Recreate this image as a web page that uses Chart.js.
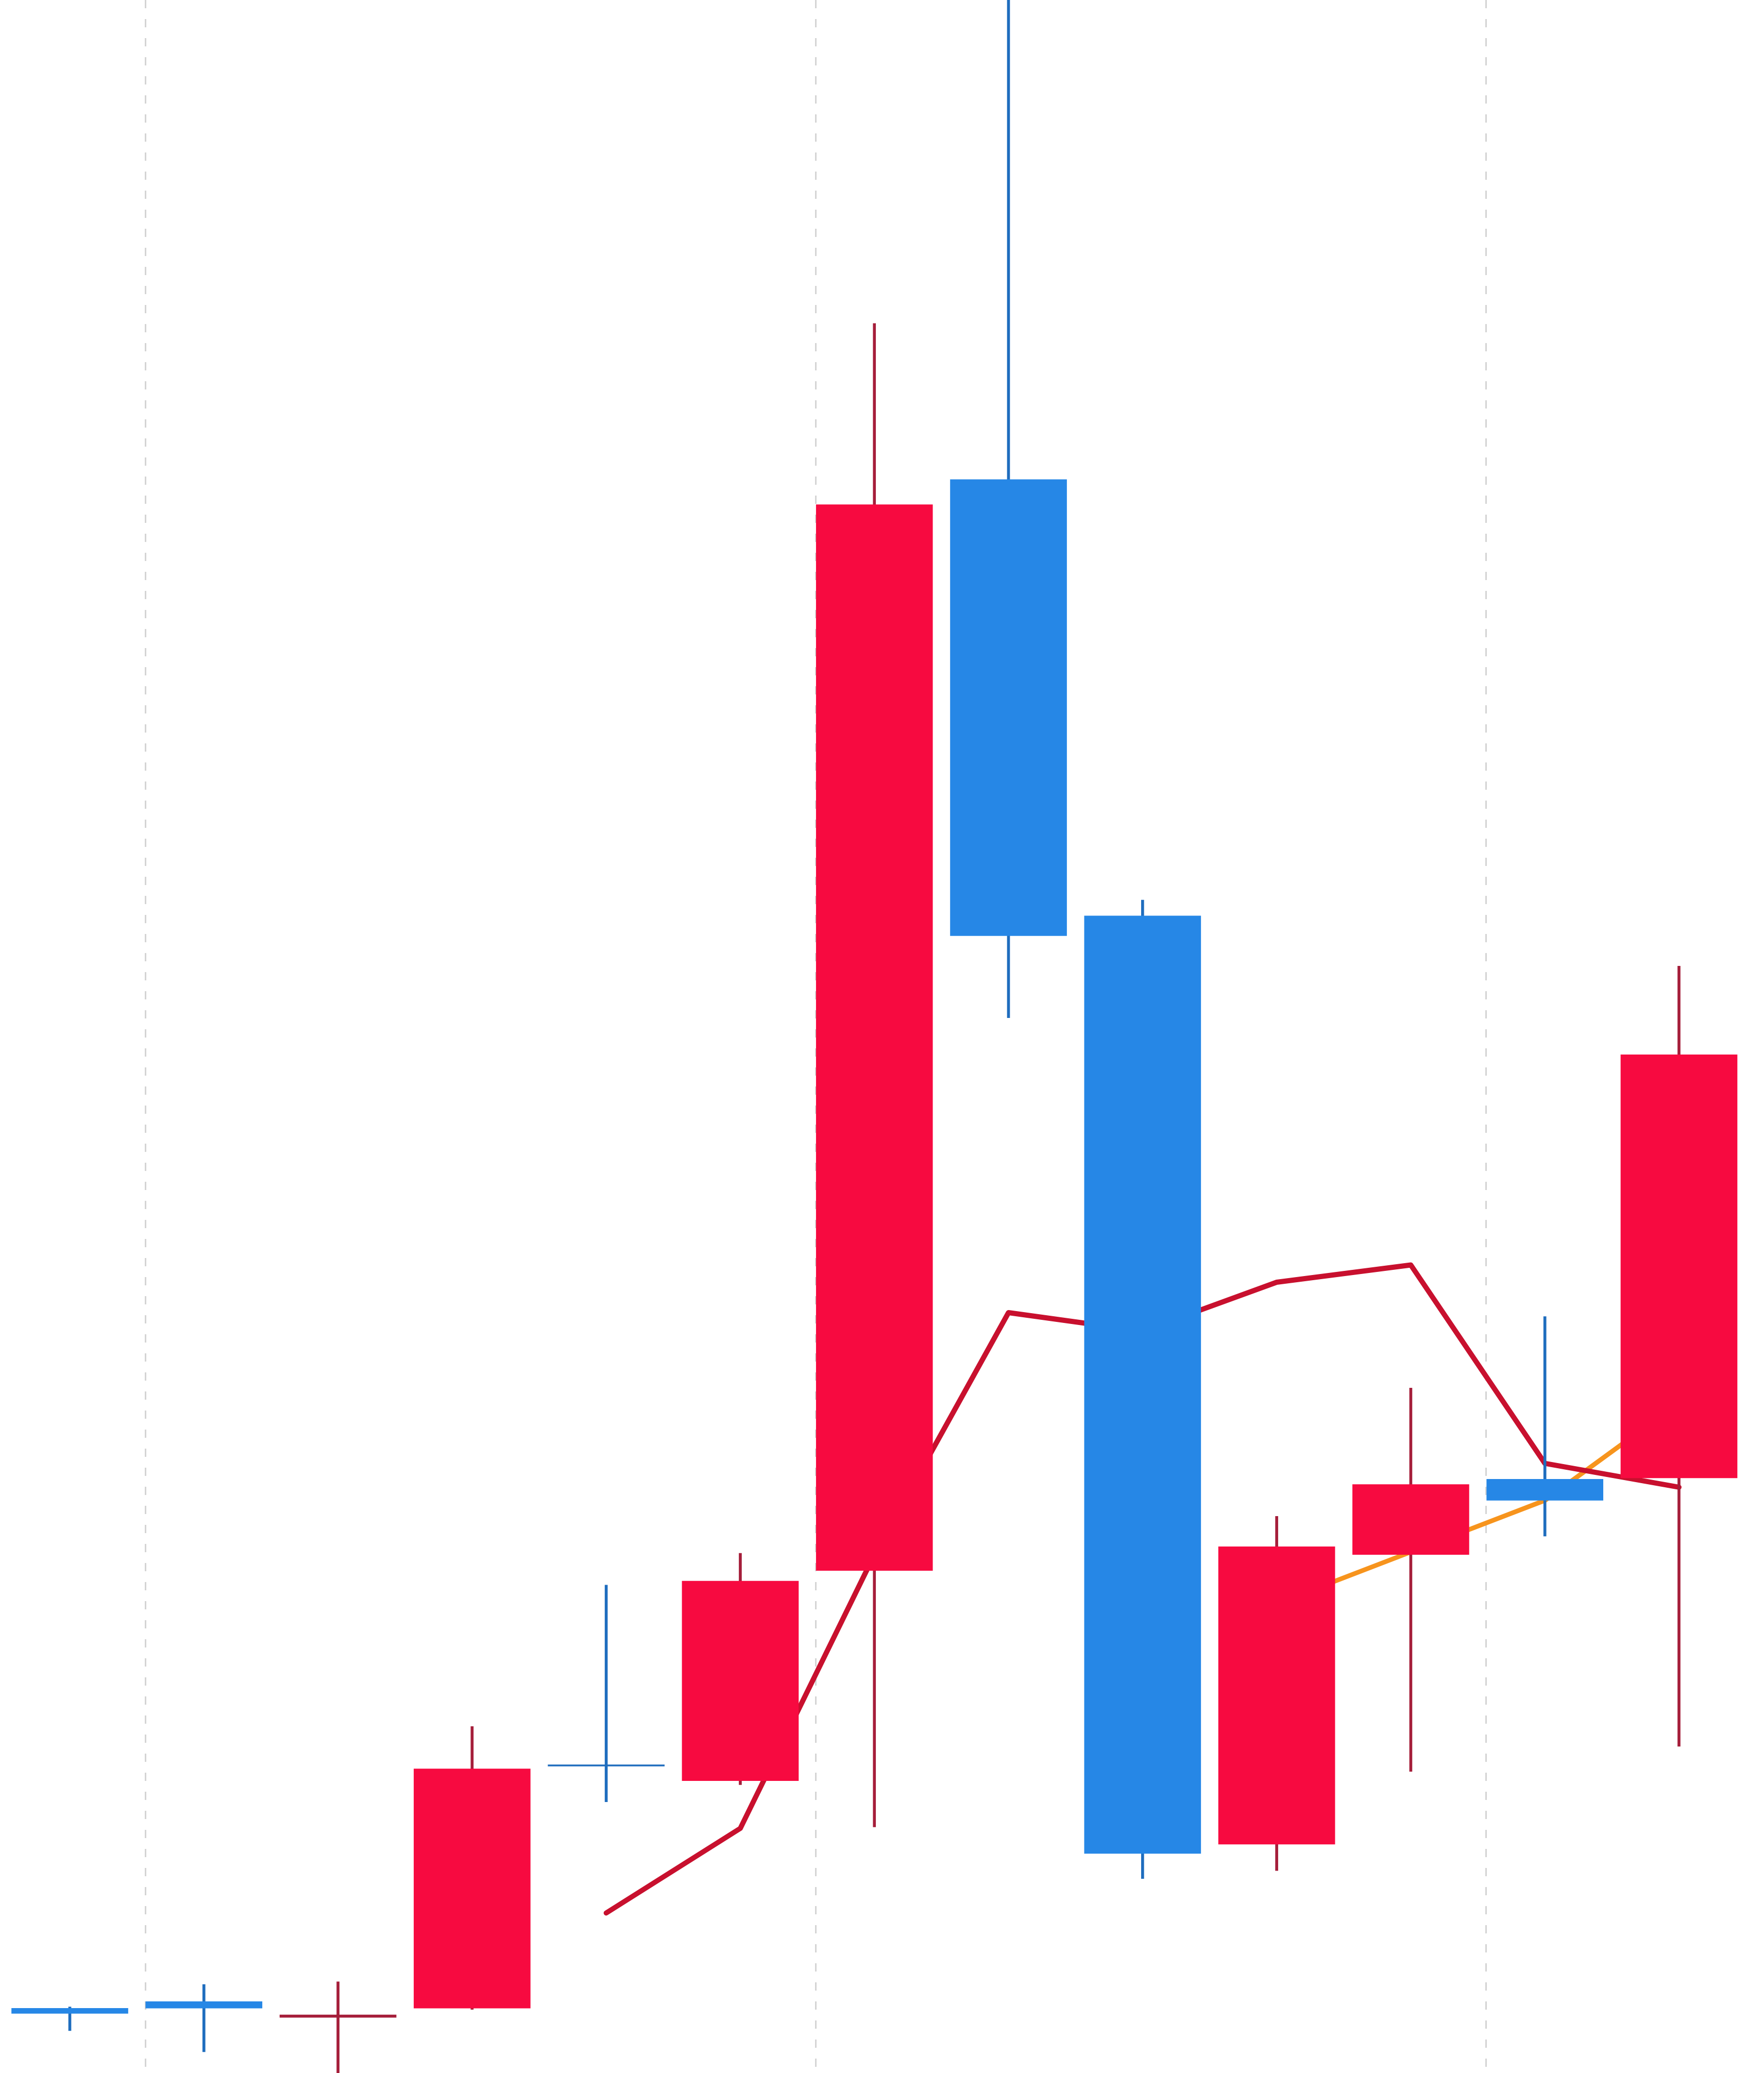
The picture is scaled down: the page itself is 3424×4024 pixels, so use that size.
<!DOCTYPE html>
<html>
<head>
<meta charset="utf-8">
<script src="https://cdn.jsdelivr.net/npm/chart.js@4.4.1/dist/chart.umd.min.js"></script>
<style>
  html, body { margin: 0; padding: 0; background: #fff; }
  #wrap { width: 3424px; height: 4024px; position: relative; }
</style>
</head>
<body>
<div id="wrap"><canvas id="kline"></canvas></div>
<script>
// candle data, one entry per session
var days  = [0, 1, 2, 3, 4, 5, 6, 7, 8, 9, 10, 11, 12];
var open  = [10.49, 10.54, 10.42, 10.49, 12.33, 12.21, 13.80, 22.05, 18.75, 11.73, 13.92, 14.49, 14.50];
var close = [10.45, 10.49, 10.44, 12.30, 12.32, 13.72, 21.86, 18.60, 11.66, 13.98, 14.45, 14.33, 17.70];
var high  = [10.50, 10.67, 10.69, 12.62, 13.69, 13.93, 23.23, 26.30, 18.87, 14.21, 15.18, 15.72, 18.37];
var low   = [10.32, 10.16,  9.98, 10.48, 12.05, 12.18, 11.86, 17.98, 11.47, 11.53, 12.28, 14.06, 12.47];
// moving averages
var maSlow = [null, null, null, null, 11.21, 11.85, 13.92, 15.75, 15.61, 15.98, 16.11, 14.61, 14.43];
var maFast = [null, null, null, null, null, null, null, null, null, 13.55, 13.94, 14.33, 15.07];
// dashed vertical grid ticks
var gridTicks = [0.563, 5.563, 10.563];

var upBody = '#F70A40', downBody = '#2687E6';
var upWick = '#A51E3A', downWick = '#1F6DBE';

function isUp(i) { return close[i] >= open[i]; }

var bodyColors = days.map(function (i) {
    var doji = Math.abs(close[i] - open[i]) < 0.03;
    if (isUp(i)) return doji ? upWick : upBody;
    return doji ? downWick : downBody;
});
var wickColors = days.map(function (i) { return isUp(i) ? upWick : downWick; });

function points(arr) {
    return days.map(function (i) { return { x: i, y: arr[i] }; });
}

var ctx = document.getElementById('kline').getContext('2d');
var chart = new Chart(ctx, {
    type: 'bar',
    data: {
        datasets: [
            {
                type: 'line',
                data: points(maSlow),
                borderColor: '#C8102E',
                borderWidth: 10,
                pointRadius: 0,
                tension: 0,
                borderJoinStyle: 'round',
                borderCapStyle: 'round',
                order: 3
            },
            {
                type: 'line',
                data: points(maFast),
                borderColor: '#F7941D',
                borderWidth: 9,
                pointRadius: 0,
                tension: 0,
                borderJoinStyle: 'round',
                borderCapStyle: 'round',
                order: 3
            },
            {
                data: days.map(function (i) { return { x: i, y: [low[i], high[i]] }; }),
                backgroundColor: wickColors,
                barThickness: 5,
                grouped: false,
                order: 2
            },
            {
                data: days.map(function (i) { return { x: i, y: [open[i], close[i]] }; }),
                backgroundColor: bodyColors,
                barThickness: 226,
                minBarLength: 3,
                grouped: false,
                order: 1
            }
        ]
    },
    options: {
        responsive: true,
        maintainAspectRatio: false,
        animation: false,
        layout: { padding: 0 },
        plugins: {
            legend: { display: false },
            tooltip: { enabled: false }
        },
        scales: {
            x: {
                type: 'linear',
                min: -0.5206,
                max: 12.634,
                offset: false,
                border: { display: false, dash: [16, 21] },
                ticks: { display: false },
                grid: { color: '#d4d4d4', lineWidth: 3, drawTicks: false, offset: false },
                afterBuildTicks: function (scale) {
                    scale.ticks = gridTicks.map(function (v) { return { value: v }; });
                }
            },
            y: {
                display: false,
                min: 10,
                max: 25.676
            }
        }
    }
});
</script>
</body>
</html>
